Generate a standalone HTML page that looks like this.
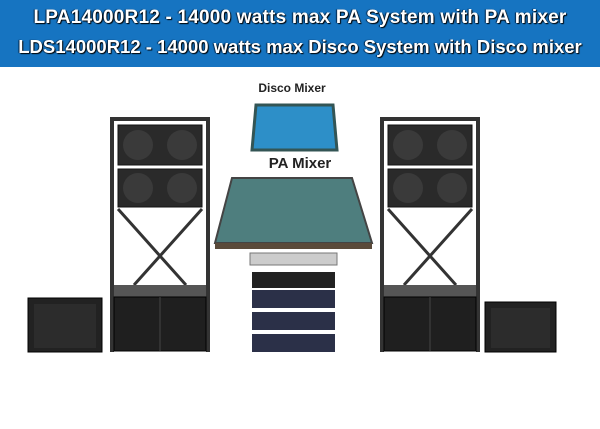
<!DOCTYPE html>
<html><head><style>
body{margin:0;width:600px;height:429px;background:#fff;overflow:hidden;font-family:"Liberation Sans",sans-serif}
.b{position:absolute;left:0;top:0;width:600px;height:67px;background:#1674c1}
.t{position:absolute;left:0;width:600px;text-align:center;color:#fff;font-weight:bold;font-size:19px;text-shadow:1px 1px 1px #000,-1px 0 1px #024}
</style></head><body>
<div class="b"></div>
<div class="t" style="top:7px;letter-spacing:0.2px">LPA14000R12 - 14000 watts max PA System with PA mixer</div>
<div class="t" style="top:36px;font-size:18.5px">LDS14000R12 - 14000 watts max Disco System with Disco mixer</div>
<svg width="600" height="429" style="position:absolute;left:0;top:0">
<defs>
<g id="tower">
<rect x="0" y="0" width="100" height="4" fill="#333"/>
<rect x="0" y="0" width="4" height="235" fill="#333"/>
<rect x="96" y="0" width="4" height="235" fill="#333"/>
<rect x="8" y="8" width="84" height="40" fill="#2a2a2a" stroke="#111"/>
<circle cx="28" cy="28" r="15" fill="#3a3a3a"/><circle cx="72" cy="28" r="15" fill="#3a3a3a"/>
<rect x="8" y="52" width="84" height="38" fill="#2a2a2a" stroke="#111"/>
<circle cx="28" cy="71" r="15" fill="#3a3a3a"/><circle cx="72" cy="71" r="15" fill="#3a3a3a"/>
<line x1="8" y1="92" x2="76" y2="168" stroke="#333" stroke-width="3"/>
<line x1="92" y1="92" x2="24" y2="168" stroke="#333" stroke-width="3"/>
<rect x="4" y="168" width="92" height="12" fill="#555"/>
<rect x="4" y="180" width="92" height="54" fill="#1f1f1f" stroke="#000"/>
<line x1="50" y1="180" x2="50" y2="234" stroke="#444"/>
</g>
</defs>
<use href="#tower" x="110" y="117"/>
<use href="#tower" x="380" y="117"/>
<rect x="28" y="298" width="74" height="54" fill="#222" stroke="#000"/>
<rect x="34" y="304" width="62" height="44" fill="#2c2c2c"/>
<rect x="485" y="302" width="71" height="50" fill="#222" stroke="#000"/>
<rect x="491" y="308" width="59" height="40" fill="#2c2c2c"/>
<text x="292" y="92" font-family="Liberation Sans" font-weight="bold" font-size="12" text-anchor="middle" fill="#222">Disco Mixer</text>
<polygon points="256,105 333,105 337,150 252,150" fill="#2d8fc8" stroke="#355" stroke-width="3"/>
<text x="300" y="168" font-family="Liberation Sans" font-weight="bold" font-size="15" text-anchor="middle" fill="#222">PA Mixer</text>
<polygon points="232,178 352,178 372,243 215,243" fill="#4e7e7e" stroke="#444" stroke-width="2"/>
<rect x="215" y="243" width="157" height="6" fill="#5a4a3a"/>
<rect x="250" y="253" width="87" height="12" fill="#ccc" stroke="#777"/>
<rect x="252" y="272" width="83" height="16" fill="#222"/>
<rect x="252" y="290" width="83" height="18" fill="#2b3048"/>
<rect x="252" y="312" width="83" height="18" fill="#2b3048"/>
<rect x="252" y="334" width="83" height="18" fill="#2b3048"/>
</svg>
</body></html>
